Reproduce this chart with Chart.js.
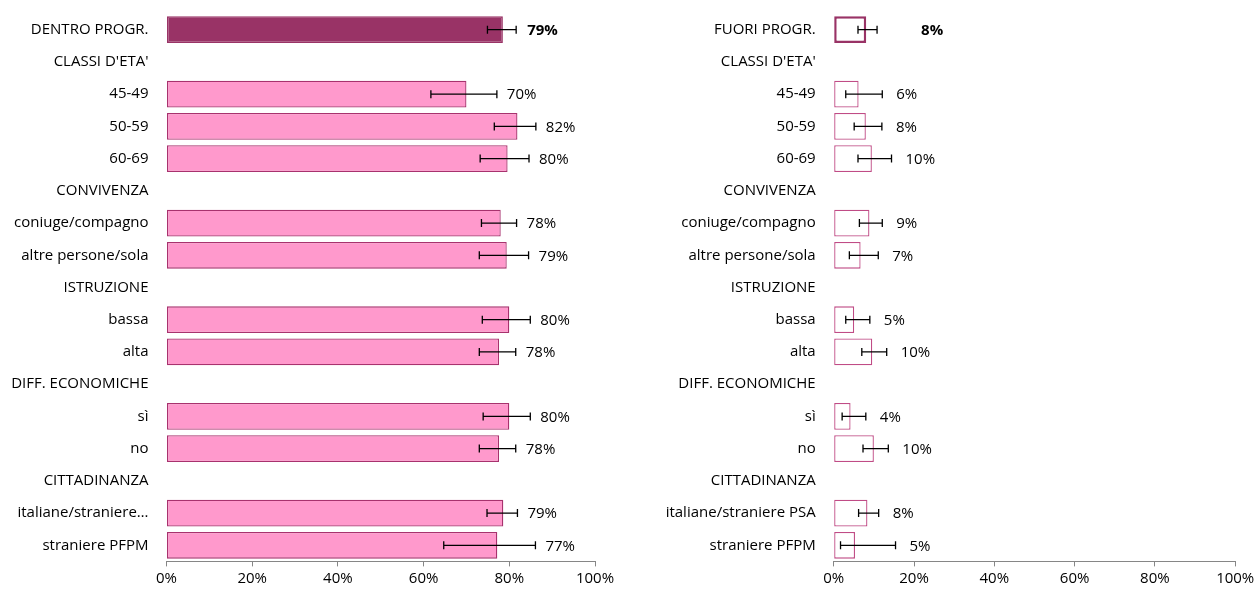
<!DOCTYPE html>
<html><head><meta charset="utf-8">
<script src="https://cdn.jsdelivr.net/npm/chart.js@4.4.0/dist/chart.umd.min.js"></script>
<style>
html,body{margin:0;padding:0;background:#fff;}
#wrap{position:relative;width:1255px;height:592px;overflow:hidden;}
canvas{position:absolute;top:0;}
</style></head><body>
<div id="wrap">
<canvas id="left" width="620" height="592" style="left:0"></canvas>
<canvas id="right" width="635" height="592" style="left:620px"></canvas>
</div>
<script>
// ---------- DATA ----------
const leftCategories = ["DENTRO PROGR.", "CLASSI D'ETA'", "45-49", "50-59", "60-69", "CONVIVENZA", "coniuge/compagno", "altre persone/sola", "ISTRUZIONE", "bassa", "alta", "DIFF. ECONOMICHE", "sì", "no", "CITTADINANZA", "italiane/straniere PSA", "straniere PFPM"];
const rightCategories = ["FUORI PROGR.", "CLASSI D'ETA'", "45-49", "50-59", "60-69", "CONVIVENZA", "coniuge/compagno", "altre persone/sola", "ISTRUZIONE", "bassa", "alta", "DIFF. ECONOMICHE", "sì", "no", "CITTADINANZA", "italiane/straniere PSA", "straniere PFPM"];

const dentroValues = [78.5, null, 70.0, 81.9, 79.6, null, 78.0, 79.4, null, 80.0, 77.6, null, 80.0, 77.6, null, 78.6, 77.2];
const dentroLow    = [74.9, null, 61.7, 76.5, 73.2, null, 73.5, 73.0, null, 73.7, 73.0, null, 73.9, 73.0, null, 74.8, 64.7];
const dentroHigh   = [81.6, null, 77.1, 86.2, 84.6, null, 81.7, 84.5, null, 84.9, 81.5, null, 84.9, 81.5, null, 81.9, 86.1];
const dentroLabels = ["79%", "", "70%", "82%", "80%", "", "78%", "79%", "", "80%", "78%", "", "80%", "78%", "", "79%", "77%"];

const fuoriValues = [8.1, null, 6.2, 8.0, 9.5, null, 8.9, 6.7, null, 5.1, 9.6, null, 4.2, 10.0, null, 8.4, 5.3];
const fuoriLow    = [6.05, null, 3.0, 5.1, 6.05, null, 6.4, 3.9, null, 3.0, 7.0, null, 2.1, 7.3, null, 6.2, 1.7];
const fuoriHigh   = [10.8, null, 12.1, 12.0, 14.4, null, 12.1, 11.1, null, 9.0, 13.2, null, 8.0, 13.6, null, 11.2, 15.4];
const fuoriLabels = ["8%", "", "6%", "8%", "10%", "", "9%", "7%", "", "5%", "10%", "", "4%", "10%", "", "8%", "5%"];

const xTickValues = [0, 20, 40, 60, 80, 100];

// ---------- CHART ----------
const FONT = "'Open Sans', Lato, sans-serif";
const FS = 15;
const measureCtx = document.createElement('canvas').getContext('2d');
function fitText(txt, maxW) {
  measureCtx.font = FS + "px " + FONT;
  if (measureCtx.measureText(txt).width <= maxW) return txt;
  let s = txt;
  while (s.length > 1 && measureCtx.measureText(s + "…").width > maxW) s = s.slice(0, -1);
  return s.trimEnd() + "…";
}

function makeChart(canvasId, cfg) {
  const errPlugin = {
    id: 'err_' + canvasId,
    afterDatasetsDraw(chart) {
      const ctx = chart.ctx;
      const xs = chart.scales.x;
      const meta = chart.getDatasetMeta(0);
      ctx.save();
      meta.data.forEach((bar, i) => {
        if (cfg.values[i] == null) return;
        const y = bar.y;
        const x1 = xs.getPixelForValue(cfg.low[i]);
        const x2 = xs.getPixelForValue(cfg.high[i]);
        ctx.strokeStyle = '#000';
        ctx.lineWidth = 1.3;
        ctx.beginPath();
        ctx.moveTo(x1, y); ctx.lineTo(x2, y);
        ctx.moveTo(x1, y - 4); ctx.lineTo(x1, y + 4);
        ctx.moveTo(x2, y - 4); ctx.lineTo(x2, y + 4);
        ctx.stroke();
        ctx.fillStyle = '#000';
        ctx.font = (i === 0 ? 'bold ' : '') + FS + 'px ' + FONT;
        ctx.textAlign = 'left';
        ctx.textBaseline = 'middle';
        ctx.fillText(cfg.labels[i], x2 + cfg.labelOffset[i === 0 ? 0 : 1], y + 1);
      });
      ctx.restore();
    }
  };
  return new Chart(document.getElementById(canvasId), {
    type: 'bar',
    data: {
      labels: cfg.categories,
      datasets: [{
        data: cfg.values,
        backgroundColor: cfg.values.map((v, i) => i === 0 ? cfg.firstFill : cfg.fill),
        borderColor: cfg.values.map((v, i) => i === 0 ? cfg.firstBorder : cfg.border),
        borderWidth: cfg.values.map((v, i) => i === 0 ? cfg.firstBorderWidth : cfg.borderWidth),
        borderSkipped: false,
        barPercentage: 0.83,
        categoryPercentage: 1.0
      }]
    },
    options: {
      indexAxis: 'y',
      responsive: false,
      animation: false,
      devicePixelRatio: 1,
      layout: { padding: { top: 13.6, right: cfg.padRight, bottom: 0, left: 0 } },
      plugins: { legend: { display: false }, tooltip: { enabled: false } },
      scales: {
        x: {
          min: 0, max: 100,
          afterBuildTicks(scale) { scale.ticks = xTickValues.map(v => ({ value: v })); },
          afterFit(scale) { scale.height = 30.6; scale.paddingLeft = 0; scale.paddingRight = 0; },
          grid: { drawOnChartArea: false, drawTicks: true, tickLength: 5, color: '#868686', lineWidth: 1 },
          border: { display: true, color: '#868686', width: 1 },
          ticks: {
            padding: 3, color: '#000',
            font: { family: FONT, size: FS },
            callback: v => v + '%',
            maxRotation: 0, autoSkip: false
          }
        },
        y: {
          afterFit(scale) { scale.width = cfg.axisWidth; scale.paddingTop = 0; scale.paddingBottom = 0; },
          grid: { display: false, drawTicks: false },
          border: { display: false },
          ticks: {
            padding: 18, color: '#000', autoSkip: false,
            font: { family: FONT, size: FS },
            callback(v, i) { return fitText(this.getLabelForValue(v), cfg.maxLabelW); }
          }
        }
      }
    },
    plugins: [errPlugin]
  });
}

makeChart('left', {
  categories: leftCategories, values: dentroValues, low: dentroLow, high: dentroHigh, labels: dentroLabels,
  firstFill: '#993366', fill: '#FF99CC', firstBorder: '#993366', border: '#A8326E',
  firstBorderWidth: 1.5, borderWidth: 1.3,
  axisWidth: 166.5, padRight: 25, maxLabelW: 140, labelOffset: [11, 10]
});
makeChart('right', {
  categories: rightCategories, values: fuoriValues, low: fuoriLow, high: fuoriHigh, labels: fuoriLabels,
  firstFill: '#FFFFFF', fill: '#FFFFFF', firstBorder: '#993366', border: '#C04C86',
  firstBorderWidth: 2.5, borderWidth: 1.3,
  axisWidth: 213.7, padRight: 19.8, maxLabelW: 400, labelOffset: [44, 14]
});
</script>
</body></html>
